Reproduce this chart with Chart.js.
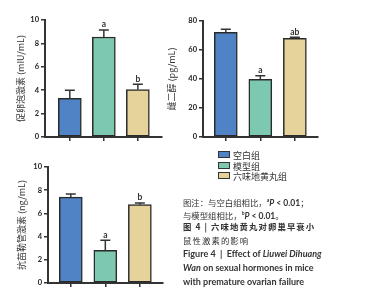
<!DOCTYPE html>
<html><head><meta charset="utf-8">
<script src="https://cdn.jsdelivr.net/npm/chart.js@4/dist/chart.umd.min.js"></script>
<style>
html,body{margin:0;padding:0;background:#fff;width:380px;height:300px;overflow:hidden;}
.box{position:absolute;}
.lg{position:absolute;font:9px "Noto Sans CJK SC";color:#333;line-height:10px;white-space:nowrap;}
.lg span{display:inline-block;width:10px;height:5px;border:1px solid #333;margin-right:3px;vertical-align:1px;}
.cap{position:absolute;left:183px;font:8.4px "Noto Sans CJK SC";color:#333;line-height:12px;white-space:nowrap;}
.en{font-family:Lato,"Noto Sans";font-weight:bold;font-size:9px;}
.en2{font-family:Lato,"Noto Sans";font-weight:bold;font-size:8.5px;}
</style></head><body>
<div class="box" style="left:0;top:0"><canvas id="c1" width="170" height="150"></canvas></div>
<div class="box" style="left:160px;top:0"><canvas id="c2" width="170" height="150"></canvas></div>
<div class="box" style="left:0;top:150px"><canvas id="c3" width="170" height="150"></canvas></div>
<div id="legend"></div>
<div class="cap" style="top:194px">图注：与空白组相比，<span class="en2"><sup style="font-size:5px">a</sup><i>P</i> &lt; 0.01</span>；</div>
<div class="cap" style="top:207px">与模型组相比，<span class="en2"><sup style="font-size:5px">b</sup><i>P</i> &lt; 0.01</span>。</div>
<div class="cap" style="top:220px;font-weight:bold;letter-spacing:1.1px">图 4 | 六味地黄丸对卵巢早衰小</div>
<div class="cap" style="top:234px;letter-spacing:1.1px">鼠性激素的影响</div>
<div class="cap en" style="top:248px">Figure 4 &nbsp;|&nbsp; Effect of <i>Liuwei Dihuang</i></div>
<div class="cap en" style="top:262px"><i>Wan</i> on sexual hormones in mice</div>
<div class="cap en" style="top:276px">with premature ovarian failure</div>
<script>
const groups = ['空白组', '模型组', '六味地黄丸组'];
const colors = ['#4F83C6', '#7CC8B0', '#E6D39C'];
const fshValues = [3.3, 8.55, 4.05];
const fshErrors = [0.7, 0.6, 0.45];
const fshMarks = ['', 'a', 'b'];
const e2Values = [72.2, 39.8, 68.1];
const e2Errors = [2.1, 2.5, 0.7];
const e2Marks = ['', 'a', 'ab'];
const amhValues = [7.4, 2.82, 6.75];
const amhErrors = [0.28, 0.86, 0.15];
const amhMarks = ['', 'a', 'b'];
const fshTicks = [0, 2, 4, 6, 8, 10];
const e2Ticks = [0, 20, 40, 60, 80];
const amhTicks = [0, 2, 4, 6, 8, 10];

const errPlugin = {
  id: 'errbars',
  afterDatasetsDraw(chart, args, opts) {
    const ctx = chart.ctx;
    const meta = chart.getDatasetMeta(0);
    const ys = chart.scales.y;
    meta.data.forEach((bar, i) => {
      const v = opts.values[i], e = opts.errors[i];
      const yTop = ys.getPixelForValue(v + e);
      const yBar = ys.getPixelForValue(v);
      ctx.save();
      ctx.strokeStyle = '#333'; ctx.lineWidth = 1.5;
      ctx.beginPath();
      ctx.moveTo(bar.x, yBar); ctx.lineTo(bar.x, yTop);
      ctx.moveTo(bar.x - 5, yTop); ctx.lineTo(bar.x + 5, yTop);
      ctx.stroke();
      if (opts.marks[i]) {
        ctx.fillStyle = '#333';
        ctx.font = 'bold 8.5px Lato';
        ctx.textAlign = 'center'; ctx.textBaseline = 'bottom';
        ctx.fillText(opts.marks[i], bar.x, yTop - 1);
      }
      ctx.restore();
    });
  }
};

function makeChart(id, values, errors, marks, ticks, title, geo) {
  new Chart(document.getElementById(id), {
    type: 'bar',
    data: {
      datasets: [{
        data: values.map((v, i) => ({x: i, y: v})),
        backgroundColor: colors,
        borderColor: '#2a2a2a',
        borderWidth: 1.5,
        borderSkipped: false,
        barThickness: 23
      }]
    },
    options: {
      responsive: false, animation: false,
      layout: {padding: geo.pad},
      plugins: {legend: {display: false}, tooltip: {enabled: false},
        errbars: {values, errors, marks}},
      scales: {
        x: {
          type: 'linear', min: geo.xmin, max: geo.xmax, offset: false,
          afterBuildTicks: s => { s.ticks = values.map((v, i) => ({value: i})); },
          afterFit: s => { s.height = 8; },
          ticks: {callback: () => '', autoSkip: false, padding: 0},
          grid: {drawOnChartArea: false, offset: false, tickLength: 4, color: '#333', lineWidth: 1.5},
          border: {color: '#333', width: 2}
        },
        y: {
          min: ticks[0], max: ticks[ticks.length - 1],
          afterBuildTicks: s => { s.ticks = ticks.map(v => ({value: v})); },
          afterFit: s => { s.width = geo.yw; },
          ticks: {font: {family: 'Lato', weight: 'bold', size: 7.5}, color: '#222', padding: 2},
          grid: {drawOnChartArea: false, tickLength: 4, color: '#333', lineWidth: 1.5},
          border: {color: '#333', width: 2},
          title: {display: true, text: title, color: '#333',
            font: {family: '"Noto Sans CJK SC"', size: 9}, padding: {top: geo.tp, bottom: 0}}
        }
      }
    },
    plugins: [errPlugin]
  });
}

makeChart('c1', fshValues, fshErrors, fshMarks, fshTicks, '促卵泡激素 (mIU/mL)',
  {pad: {left: 0, top: 20, right: 8, bottom: 5}, yw: 45, tp: 15.5, xmin: -0.73, xmax: 2.71});
makeChart('c2', e2Values, e2Errors, e2Marks, e2Ticks, '雌二醇 (pg/mL)',
  {pad: {left: 0, top: 21, right: 12, bottom: 5}, yw: 43, tp: 6.5, xmin: -0.66, xmax: 2.67});
makeChart('c3', amhValues, amhErrors, amhMarks, amhTicks, '抗苗勒管激素 (ng/mL)',
  {pad: {left: 0, top: 17, right: 7, bottom: 9}, yw: 48, tp: 16, xmin: -0.66, xmax: 2.67});

const lg = document.getElementById('legend');
const legendTops = [151, 161.5, 172];
groups.forEach((g, i) => {
  const d = document.createElement('div');
  d.className = 'lg';
  d.style.left = '218px'; d.style.top = legendTops[i] + 'px';
  d.innerHTML = '<span style="background:' + colors[i] + '"></span>' + g;
  lg.appendChild(d);
});
</script>
</body></html>
